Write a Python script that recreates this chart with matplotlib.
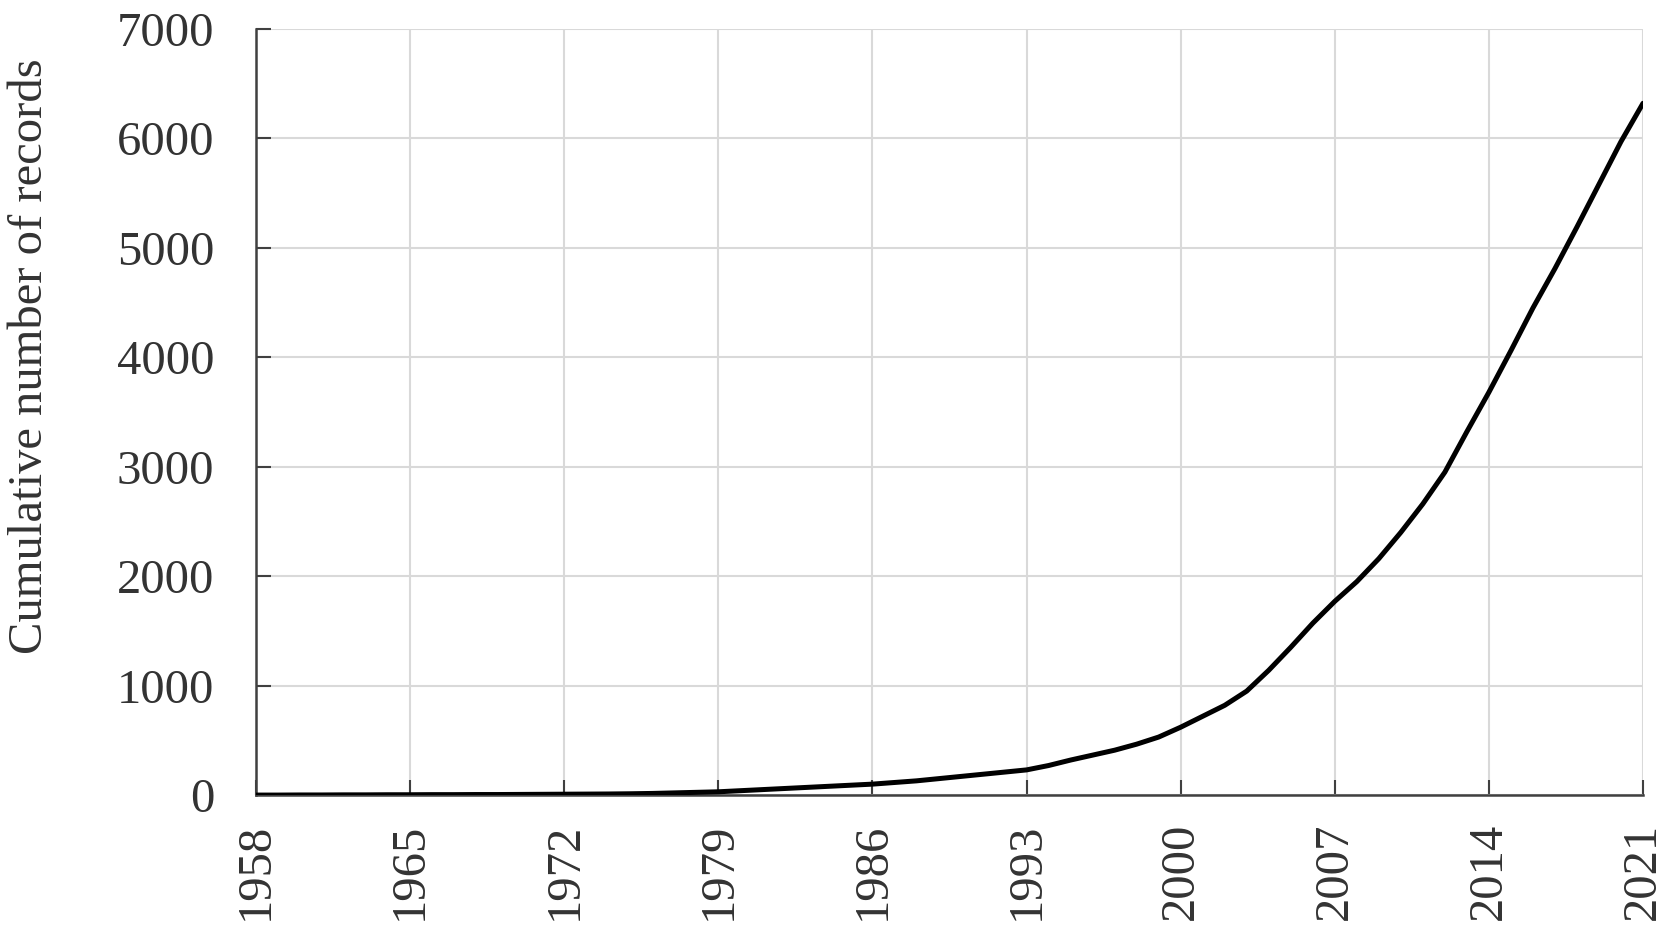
import numpy as np
import matplotlib.pyplot as plt

plt.rcParams['font.family'] = ['Liberation Serif', 'DejaVu Serif']

years = list(range(1958, 2022))
records = [0, 0, 1, 1, 2, 2, 3, 3, 4, 4, 5, 5, 6, 7, 8, 9, 10, 12, 15, 20, 25, 30,
           40, 50, 60, 70, 80, 90, 100, 115, 130, 150, 170, 190, 210, 230, 270,
           320, 365, 410, 465, 530, 620, 720, 820, 950, 1140, 1350, 1570, 1770,
           1950, 2160, 2400, 2660, 2950, 3320, 3680, 4060, 4450, 4810, 5190,
           5580, 5970, 6320]
xticks = list(range(1958, 2022, 7))
yticks = list(range(0, 7001, 1000))

fig = plt.figure(figsize=(16.67, 9.31), dpi=100)
ax = fig.add_axes([0.1536, 0.146, 0.832, 0.823])

ax.plot(years, records, color='black', lw=3.6, solid_capstyle='round',
        solid_joinstyle='round', zorder=3)

ax.set_xlim(1958, 2021)
ax.set_ylim(0, 7000)
ax.set_xticks(xticks)
ax.set_yticks(yticks)
ax.set_xticklabels([str(x) for x in xticks], rotation=90)
ax.tick_params(axis='both', direction='in', length=11, width=1.5, color='#404040',
               labelsize=35, labelcolor='#333333')
ax.tick_params(axis='x', pad=20)
ax.tick_params(axis='y', pad=30)

ax.grid(True, color='#d9d9d9', lw=1.5, zorder=0)
for s in ['top', 'right']:
    ax.spines[s].set_visible(False)
for s in ['left', 'bottom']:
    ax.spines[s].set_color('#404040')
    ax.spines[s].set_linewidth(1.8)

ax.set_ylabel('Cumulative number of records', fontsize=35, color='#333333')
ax.yaxis.set_label_coords(-0.147, 0.573)

fig.savefig('out.png', dpi=100)
